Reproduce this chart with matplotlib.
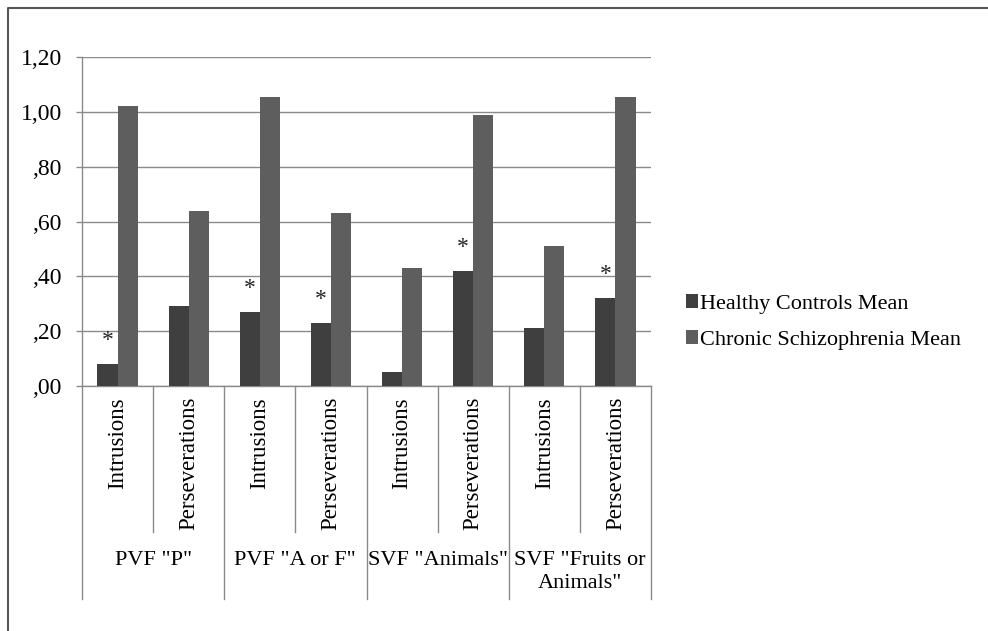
import matplotlib
matplotlib.use('Agg')
import matplotlib.pyplot as plt
from matplotlib.patches import Patch
from matplotlib.lines import Line2D
import numpy as np

# ---- data ----
subcats = ['Intrusions', 'Perseverations'] * 4
groups = ['PVF "P"', 'PVF "A or F"', 'SVF "Animals"', 'SVF "Fruits or\nAnimals"']
healthy = [0.08, 0.29, 0.27, 0.23, 0.05, 0.42, 0.21, 0.32]
chronic = [1.02, 0.64, 1.055, 0.63, 0.43, 0.99, 0.51, 1.055]
significant = [True, False, True, True, False, True, False, True]
yticks = [0.0, 0.2, 0.4, 0.6, 0.8, 1.0, 1.2]
yticklabels = [',00', ',20', ',40', ',60', ',80', '1,00', '1,20']
series_names = ['Healthy Controls Mean', 'Chronic Schizophrenia Mean']

# ---- style ----
plt.rcParams['font.family'] = ['Liberation Serif', 'DejaVu Serif']
c_healthy = '#3f3f3f'
c_chronic = '#5e5e5e'
c_grid = '#8a8a8a'
fs = 17

W, H = 988, 631
fig = plt.figure(figsize=(W / 100, H / 100), dpi=100)
ax = fig.add_axes([82 / W, (H - 386) / H, (651 - 82) / W, (386 - 57) / H])

x = np.arange(len(subcats))
bw = 0.283
ax.bar(x - bw / 2, healthy, width=bw, color=c_healthy, zorder=3)
ax.bar(x + bw / 2, chronic, width=bw, color=c_chronic, zorder=3)

for xi, h, s in zip(x, healthy, significant):
    if s:
        ax.annotate('*', xy=(xi - bw / 2, h), xytext=(0, 13), textcoords='offset points',
                    ha='center', va='baseline', fontsize=fs, color='#222222', zorder=4)

ax.set_xlim(-0.5, len(subcats) - 0.5)
ax.set_ylim(0, 1.2)
ax.set_yticks(yticks)
ax.set_yticklabels(yticklabels)
ax.yaxis.grid(True, color=c_grid, linewidth=1.0, zorder=0)
ax.set_axisbelow(True)
ax.tick_params(axis='y', length=4.5, width=1.0, color=c_grid, pad=10, labelsize=fs)
ax.set_xticks([])
for side in ['top', 'right']:
    ax.spines[side].set_visible(False)
for side in ['left', 'bottom']:
    ax.spines[side].set_color(c_grid)
    ax.spines[side].set_linewidth(1.0)

# category separators and labels below the axis
trans = ax.get_xaxis_transform()
ah = 386 - 57
short_end = -(532 - 386) / ah
long_end = -(599 - 386) / ah
for k in range(len(subcats) + 1):
    xs = k - 0.5
    yend = long_end if k % 2 == 0 else short_end
    ax.plot([xs, xs], [0, yend], transform=trans, clip_on=False, color=c_grid, lw=1.0)

for xi, lab in zip(x, subcats):
    ax.text(xi, -(397 - 386) / ah, lab, transform=trans, rotation=90, ha='center', va='top',
            fontsize=16.5, color='black')

for g, lab in enumerate(groups):
    ax.text(2 * g + 0.5, -(551 - 386) / ah, lab, transform=trans, ha='center', va='top',
            fontsize=16, color='black', linespacing=1.25)

# legend
handles = [Patch(facecolor=c_healthy, edgecolor='none'), Patch(facecolor=c_chronic, edgecolor='none')]
fig.legend(handles, series_names, loc='center left', bbox_to_anchor=(686 / W, 1 - 322 / H),
           frameon=False, fontsize=16, handlelength=0.55, handleheight=0.55,
           handletextpad=0.1, labelspacing=0.75, borderpad=0, borderaxespad=0)

# outer border (top and left visible)
fig.add_artist(Line2D([8 / W, 8 / W, 1.0], [0.0, 1 - 8 / H, 1 - 8 / H],
                      transform=fig.transFigure, color='#555555', lw=1.5))

fig.savefig('out.png', dpi=100)
